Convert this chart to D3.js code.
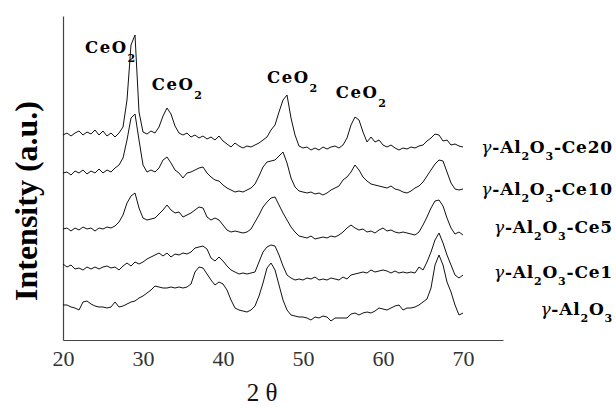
<!DOCTYPE html>
<html>
<head>
<meta charset="utf-8">
<script src="https://cdn.jsdelivr.net/npm/d3@7"></script>
<style>
  html, body { margin: 0; padding: 0; background: #fff; }
  svg { display: block; }
</style>
</head>
<body>
<svg id="chart" width="616" height="408"></svg>
<script>
// ---- data ----
const twoTheta = d3.range(20, 70.001, 0.5);   // 2θ sampling (degrees)
const xTicks = [20, 30, 40, 50, 60, 70];

const ce20 = [205,207,204,207,209,205,208,206,210,205,
              209,204,207,203,207,213,240,295,305,228,
              208,206,209,207,213,224,232,226,214,207,
              205,207,203,205,202,204,201,203,200,204,
              199,196,193,197,194,192,194,193,195,197,
              200,203,210,215,228,240,245,222,205,194,
              192,193,190,192,190,193,191,193,194,192,
              195,202,215,223,220,208,198,203,198,200,
              195,193,195,192,190,192,191,193,192,194,
              195,199,202,206,205,199,200,195,196,194,
              193];
const ce10 = [167,168,165,169,167,170,166,169,167,171,
              167,170,168,172,175,182,200,222,226,200,
              175,168,170,168,172,180,183,177,170,167,
              162,167,168,170,172,173,167,163,160,159,
              155,152,150,148,149,148,150,152,156,164,
              173,178,179,180,184,188,177,162,153,149,
              148,147,148,146,147,145,147,150,152,154,
              160,163,168,175,170,163,159,156,155,154,
              153,152,154,151,150,148,147,149,152,154,
              158,164,170,176,180,179,168,157,151,150,
              151];
const ce5  = [111,112,109,112,110,113,111,112,109,112,
              111,113,112,114,118,125,137,144,147,132,
              122,120,121,122,126,130,135,130,127,128,
              123,125,127,130,133,132,123,120,122,120,
              115,110,108,109,108,107,108,111,118,125,
              133,138,142,143,135,127,120,113,108,104,
              103,102,104,101,102,103,102,104,103,105,
              108,112,115,112,110,111,108,109,107,110,
              112,109,110,108,107,108,107,106,105,108,
              115,123,132,139,140,134,122,112,106,108,
              105];
const ce1  = [76,73,75,71,72,70,73,71,73,71,
              73,74,72,73,70,74,77,74,78,76,
              78,81,83,85,87,84,87,83,86,85,
              87,86,88,92,93,94,91,82,79,83,
              79,74,70,68,66,67,66,67,68,78,
              88,93,95,94,85,74,65,62,60,61,
              60,62,61,63,60,61,60,62,61,60,
              63,61,65,66,67,68,67,70,68,69,
              70,69,67,69,67,68,67,68,67,73,
              70,78,88,100,107,97,85,75,65,62,
              65];
const al2o3 = [35,35,33,32,30,38,39,36,34,33,
               33,32,33,38,33,34,36,38,39,42,
               44,47,50,54,53,52,52,53,52,53,
               52,53,56,68,73,72,66,60,55,58,
               56,50,40,32,30,29,28,30,34,44,
               57,72,77,70,55,40,30,25,24,23,
               23,22,20,23,22,24,23,19,22,22,
               22,22,26,27,25,27,28,27,29,32,
               31,30,32,34,35,30,32,32,33,35,
               38,41,52,75,85,75,58,48,35,25,
               27];

const seriesValues = [ce20, ce10, ce5, ce1, al2o3];
const seriesLabels = [
  [["γ", "g"], ["-Al", "n"], ["2", "s"], ["O", "n"], ["3", "s"], ["-Ce20", "n"]],
  [["γ", "g"], ["-Al", "n"], ["2", "s"], ["O", "n"], ["3", "s"], ["-Ce10", "n"]],
  [["γ", "g"], ["-Al", "n"], ["2", "s"], ["O", "n"], ["3", "s"], ["-Ce5", "n"]],
  [["γ", "g"], ["-Al", "n"], ["2", "s"], ["O", "n"], ["3", "s"], ["-Ce1", "n"]],
  [["γ", "g"], ["-Al", "n"], ["2", "s"], ["O", "n"], ["3", "s"]]
];
const peakLabel = [["CeO", "n"], ["2", "s"]];
const peakLabelTheta = [22.75, 31.1, 45.5, 54.1];

// ---- layout ----
const svg = d3.select("#chart");
const x = d3.scaleLinear().domain([20, 75]).range([63, 503]);
const y = d3.scaleLinear().domain([0, 324]).range([340, 16]);

const legendBaselines = [153, 195, 233, 278, 315];
const peakBaselines = [53, 90, 83, 98];

// axes
const xAxis = svg.append("g")
  .attr("transform", `translate(0,${y(0)})`)
  .call(d3.axisBottom(x).tickValues(xTicks).tickSize(0).tickSizeOuter(0).tickPadding(10));
xAxis.select(".domain").attr("stroke", "#444").attr("stroke-width", 1.2);
xAxis.selectAll("text")
  .attr("font-family", "'Liberation Serif', serif")
  .attr("font-size", 22)
  .attr("fill", "#333");

const yAxis = svg.append("g")
  .attr("transform", `translate(${x(20)},0)`)
  .call(d3.axisLeft(y).tickValues([]).tickSizeOuter(0));
yAxis.select(".domain").attr("stroke", "#444").attr("stroke-width", 1.2);

// traces
const line = d3.line()
  .x((d, i) => x(twoTheta[i]))
  .y(d => y(d));

svg.append("g").selectAll("path")
  .data(seriesValues)
  .join("path")
  .attr("d", line)
  .attr("fill", "none")
  .attr("stroke", "#111")
  .attr("stroke-width", 1)
  .attr("stroke-linejoin", "round");

// rich text helper
function richText(g, parts, size, subSize, subShift) {
  let shifted = false;
  parts.forEach(([t, kind]) => {
    const ts = g.append("tspan").text(t);
    if (kind === "s") {
      ts.attr("font-size", subSize).attr("dy", shifted ? 0 : subShift);
      shifted = true;
    } else {
      ts.attr("font-size", size).attr("dy", shifted ? -subShift : 0);
      shifted = false;
      if (kind === "g") ts.attr("font-style", "italic").attr("font-weight", "normal");
    }
  });
}

// series labels
seriesLabels.forEach((parts, i) => {
  const t = svg.append("text")
    .attr("x", 613)
    .attr("y", legendBaselines[i])
    .attr("text-anchor", "end")
    .attr("font-family", "'DejaVu Serif', serif")
    .attr("font-weight", "bold")
    .attr("letter-spacing", 0.8)
    .attr("fill", "#000");
  richText(t, parts, 17, 11, 7);
});

// peak labels
peakLabelTheta.forEach((th, i) => {
  const t = svg.append("text")
    .attr("x", x(th))
    .attr("y", peakBaselines[i])
    .attr("font-family", "'DejaVu Serif', serif")
    .attr("font-weight", "bold")
    .attr("letter-spacing", 1.5)
    .attr("fill", "#000");
  richText(t, peakLabel, 16.5, 11, 9);
});

// axis titles
svg.append("text")
  .attr("x", 262)
  .attr("y", 401)
  .attr("text-anchor", "middle")
  .attr("font-family", "'Liberation Serif', serif")
  .attr("font-size", 25)
  .attr("fill", "#111")
  .text("2 θ");

svg.append("text")
  .attr("transform", "translate(37,201) rotate(-90)")
  .attr("text-anchor", "middle")
  .attr("font-family", "'Liberation Serif', serif")
  .attr("font-weight", "bold")
  .attr("font-size", 32)
  .attr("fill", "#000")
  .text("Intensity (a.u.)");
</script>
</body>
</html>
